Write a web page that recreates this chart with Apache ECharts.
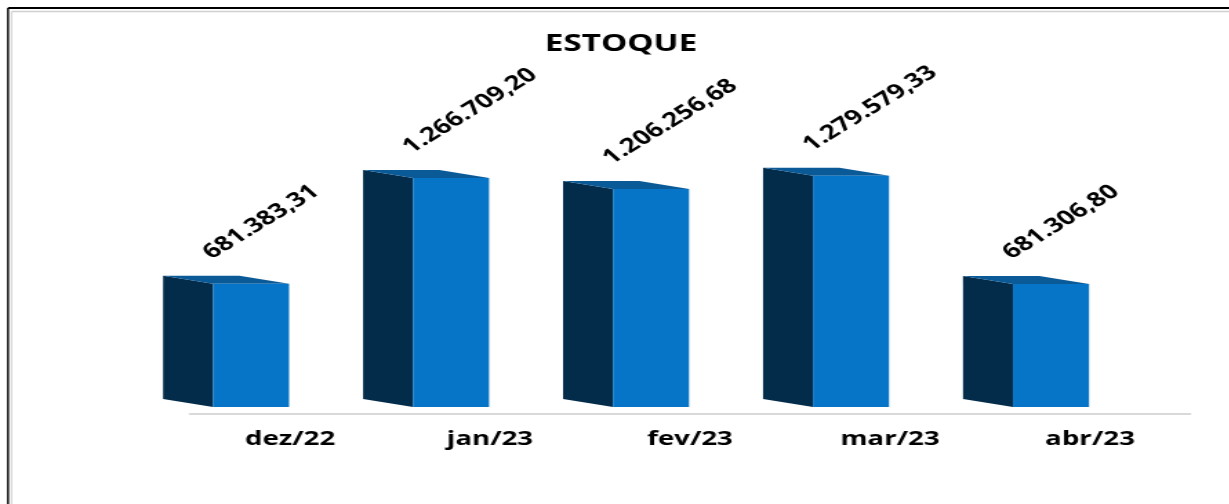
<!DOCTYPE html>
<html>
<head>
<meta charset="utf-8">
<script src="https://cdn.jsdelivr.net/npm/echarts@6/dist/echarts.min.js"></script>
<style>
  html, body { margin: 0; padding: 0; background: #fff; overflow: hidden; }
  #wrap { width: 1229px; height: 504px; overflow: hidden; position: relative; }
  /* the reference picture is a horizontally stretched chart: draw narrow, then stretch */
  #chart { width: 891px; height: 504px; transform: scaleX(1.38); transform-origin: 0 0; }
</style>
</head>
<body>
<div id="wrap"><div id="chart"></div></div>
<script>
const categories = ['dez/22', 'jan/23', 'fev/23', 'mar/23', 'abr/23'];
const estoque = [681383.31, 1266709.20, 1206256.68, 1279579.33, 681306.80];
const valueLabels = ['681.383,31', '1.266.709,20', '1.206.256,68', '1.279.579,33', '681.306,80'];

const FONT = '"Open Sans", "Noto Sans", sans-serif';
const chart = echarts.init(document.getElementById('chart'));

chart.setOption({
  backgroundColor: '#ffffff',
  animation: false,
  title: {
    text: 'ESTOQUE',
    left: 445,
    textAlign: 'center',
    top: 27,
    textStyle: { fontFamily: FONT, fontWeight: 'bold', fontSize: 24, color: '#000' }
  },
  graphic: [
    { type: 'line', shape: { x1: 5.8, y1: 8, x2: 900, y2: 8 }, style: { stroke: '#000', lineWidth: 2 }, silent: true },
    { type: 'line', shape: { x1: 5.8, y1: 8, x2: 5.8, y2: 510 }, style: { stroke: '#000', lineWidth: 1.45 }, silent: true },
    { type: 'line', shape: { x1: 8.3, y1: 11.5, x2: 900, y2: 11.5 }, style: { stroke: '#d0d0d0', lineWidth: 1.5 }, silent: true },
    { type: 'line', shape: { x1: 8.3, y1: 11.5, x2: 8.3, y2: 510 }, style: { stroke: '#d0d0d0', lineWidth: 1.1 }, silent: true }
  ],
  grid: { left: 137.7, right: 28.7, top: 161, bottom: 90 },
  xAxis: {
    type: 'category',
    data: categories,
    axisLine: { show: true, lineStyle: { color: '#d9d9d9', width: 2 } },
    axisTick: { show: false },
    axisLabel: {
      margin: 15,
      fontFamily: FONT,
      fontWeight: 'bold',
      fontSize: 20,
      color: '#000'
    }
  },
  yAxis: {
    type: 'value',
    min: 0,
    max: 1400000,
    show: false,
    splitLine: { show: false }
  },
  series: [{
    type: 'custom',
    data: estoque.map((v, i) => [i, v]),
    renderItem: function (params, api) {
      const i = api.value(0);
      const v = api.value(1);
      const top = api.coord([i, v]);
      const base = api.coord([i, 0]);
      const cx = top[0];
      const yT = top[1] - 7;
      const y0 = base[1] - 7;
      const x0 = cx - 92, x1 = cx - 55.8, x2 = cx - 0.7;
      const d = 8;
      return {
        type: 'group',
        children: [
          { type: 'polygon', shape: { points: [[x0, yT - d], [x1, yT], [x1, y0], [x0, y0 - d]] }, style: { fill: '#032c4a' } },
          { type: 'polygon', shape: { points: [[x0, yT - d], [x2 - 36, yT - d], [x2, yT], [x1, yT]] }, style: { fill: '#0a5a98' } },
          { type: 'rect', shape: { x: x1, y: yT, width: x2 - x1, height: y0 - yT }, style: { fill: '#0775c7' } },
          {
            type: 'text',
            x: cx - 54,
            y: yT - 21,
            rotation: 40 * Math.PI / 180,
            style: {
              text: valueLabels[i],
              x: 0, y: 0,
              align: 'left',
              verticalAlign: 'bottom',
              font: 'bold 20px ' + FONT,
              fill: '#000'
            }
          }
        ]
      };
    }
  }]
});
</script>
</body>
</html>
